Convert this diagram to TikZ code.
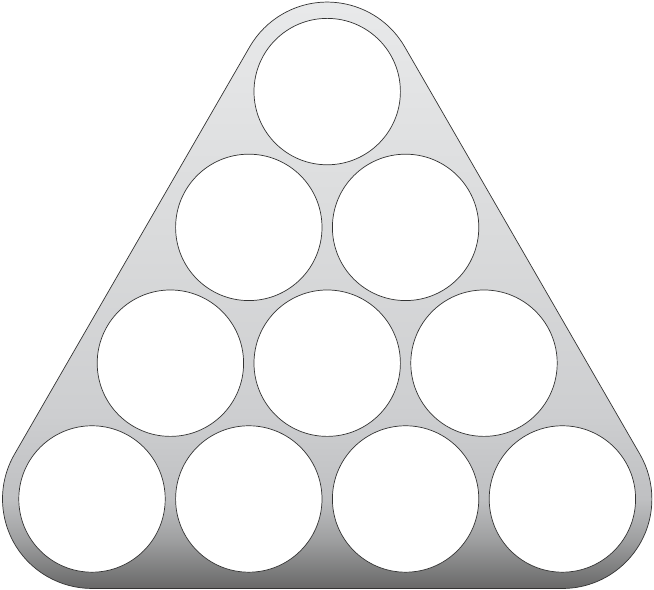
\documentclass[tikz,border=0pt]{standalone}
\usepackage{tikz}
\usetikzlibrary{calc}

\definecolor{rackA}{HTML}{686868}
\definecolor{rackB}{HTML}{9FA0A1}
\definecolor{rackC}{HTML}{BFC0C2}
\definecolor{rackD}{HTML}{CDCED0}
\definecolor{rackE}{HTML}{D9DADB}
\definecolor{rackF}{HTML}{E9EAEB}
\definecolor{rim}{HTML}{333333}
\pgfdeclareverticalshading{rackshade}{100bp}{%
  color(0bp)=(rackA); color(25bp)=(rackA); color(29.1bp)=(rackB);
  color(32.5bp)=(rackC); color(39.4bp)=(rackD); color(53.9bp)=(rackE);
  color(75bp)=(rackF); color(100bp)=(rackF)}

\begin{document}
\begin{tikzpicture}[x=0.02cm,y=0.02cm]
            \useasboundingbox (0,0) rectangle (654,590);
            % rack outline: corners round the three corner balls
            \coordinate (A) at (92,91);
            \coordinate (B) at (562.4,91);
            \coordinate (C) at (327.2,498.4);
            \shade[shading=rackshade, draw=rim, line width=0.4pt]
                ($(A)+(0,-89.5)$) -- ($(B)+(0,-89.5)$)
                arc[start angle=-90, end angle=30, radius=89.5]
                -- ($(C)+(30:89.5)$)
                arc[start angle=30, end angle=150, radius=89.5]
                -- ($(A)+(150:89.5)$)
                arc[start angle=150, end angle=270, radius=89.5] -- cycle;
            % ball holes
            \foreach \k in {0,...,3} {
                \pgfmathtruncatemacro{\n}{3-\k}
                \foreach \i in {0,...,\n} {
                    \draw[fill=white, draw=rim, line width=0.4pt]
                        (92+156.8*\k/2+156.8*\i, 91+135.8*\k) circle (73.2);
                }
            }
        \end{tikzpicture}
\end{document}
